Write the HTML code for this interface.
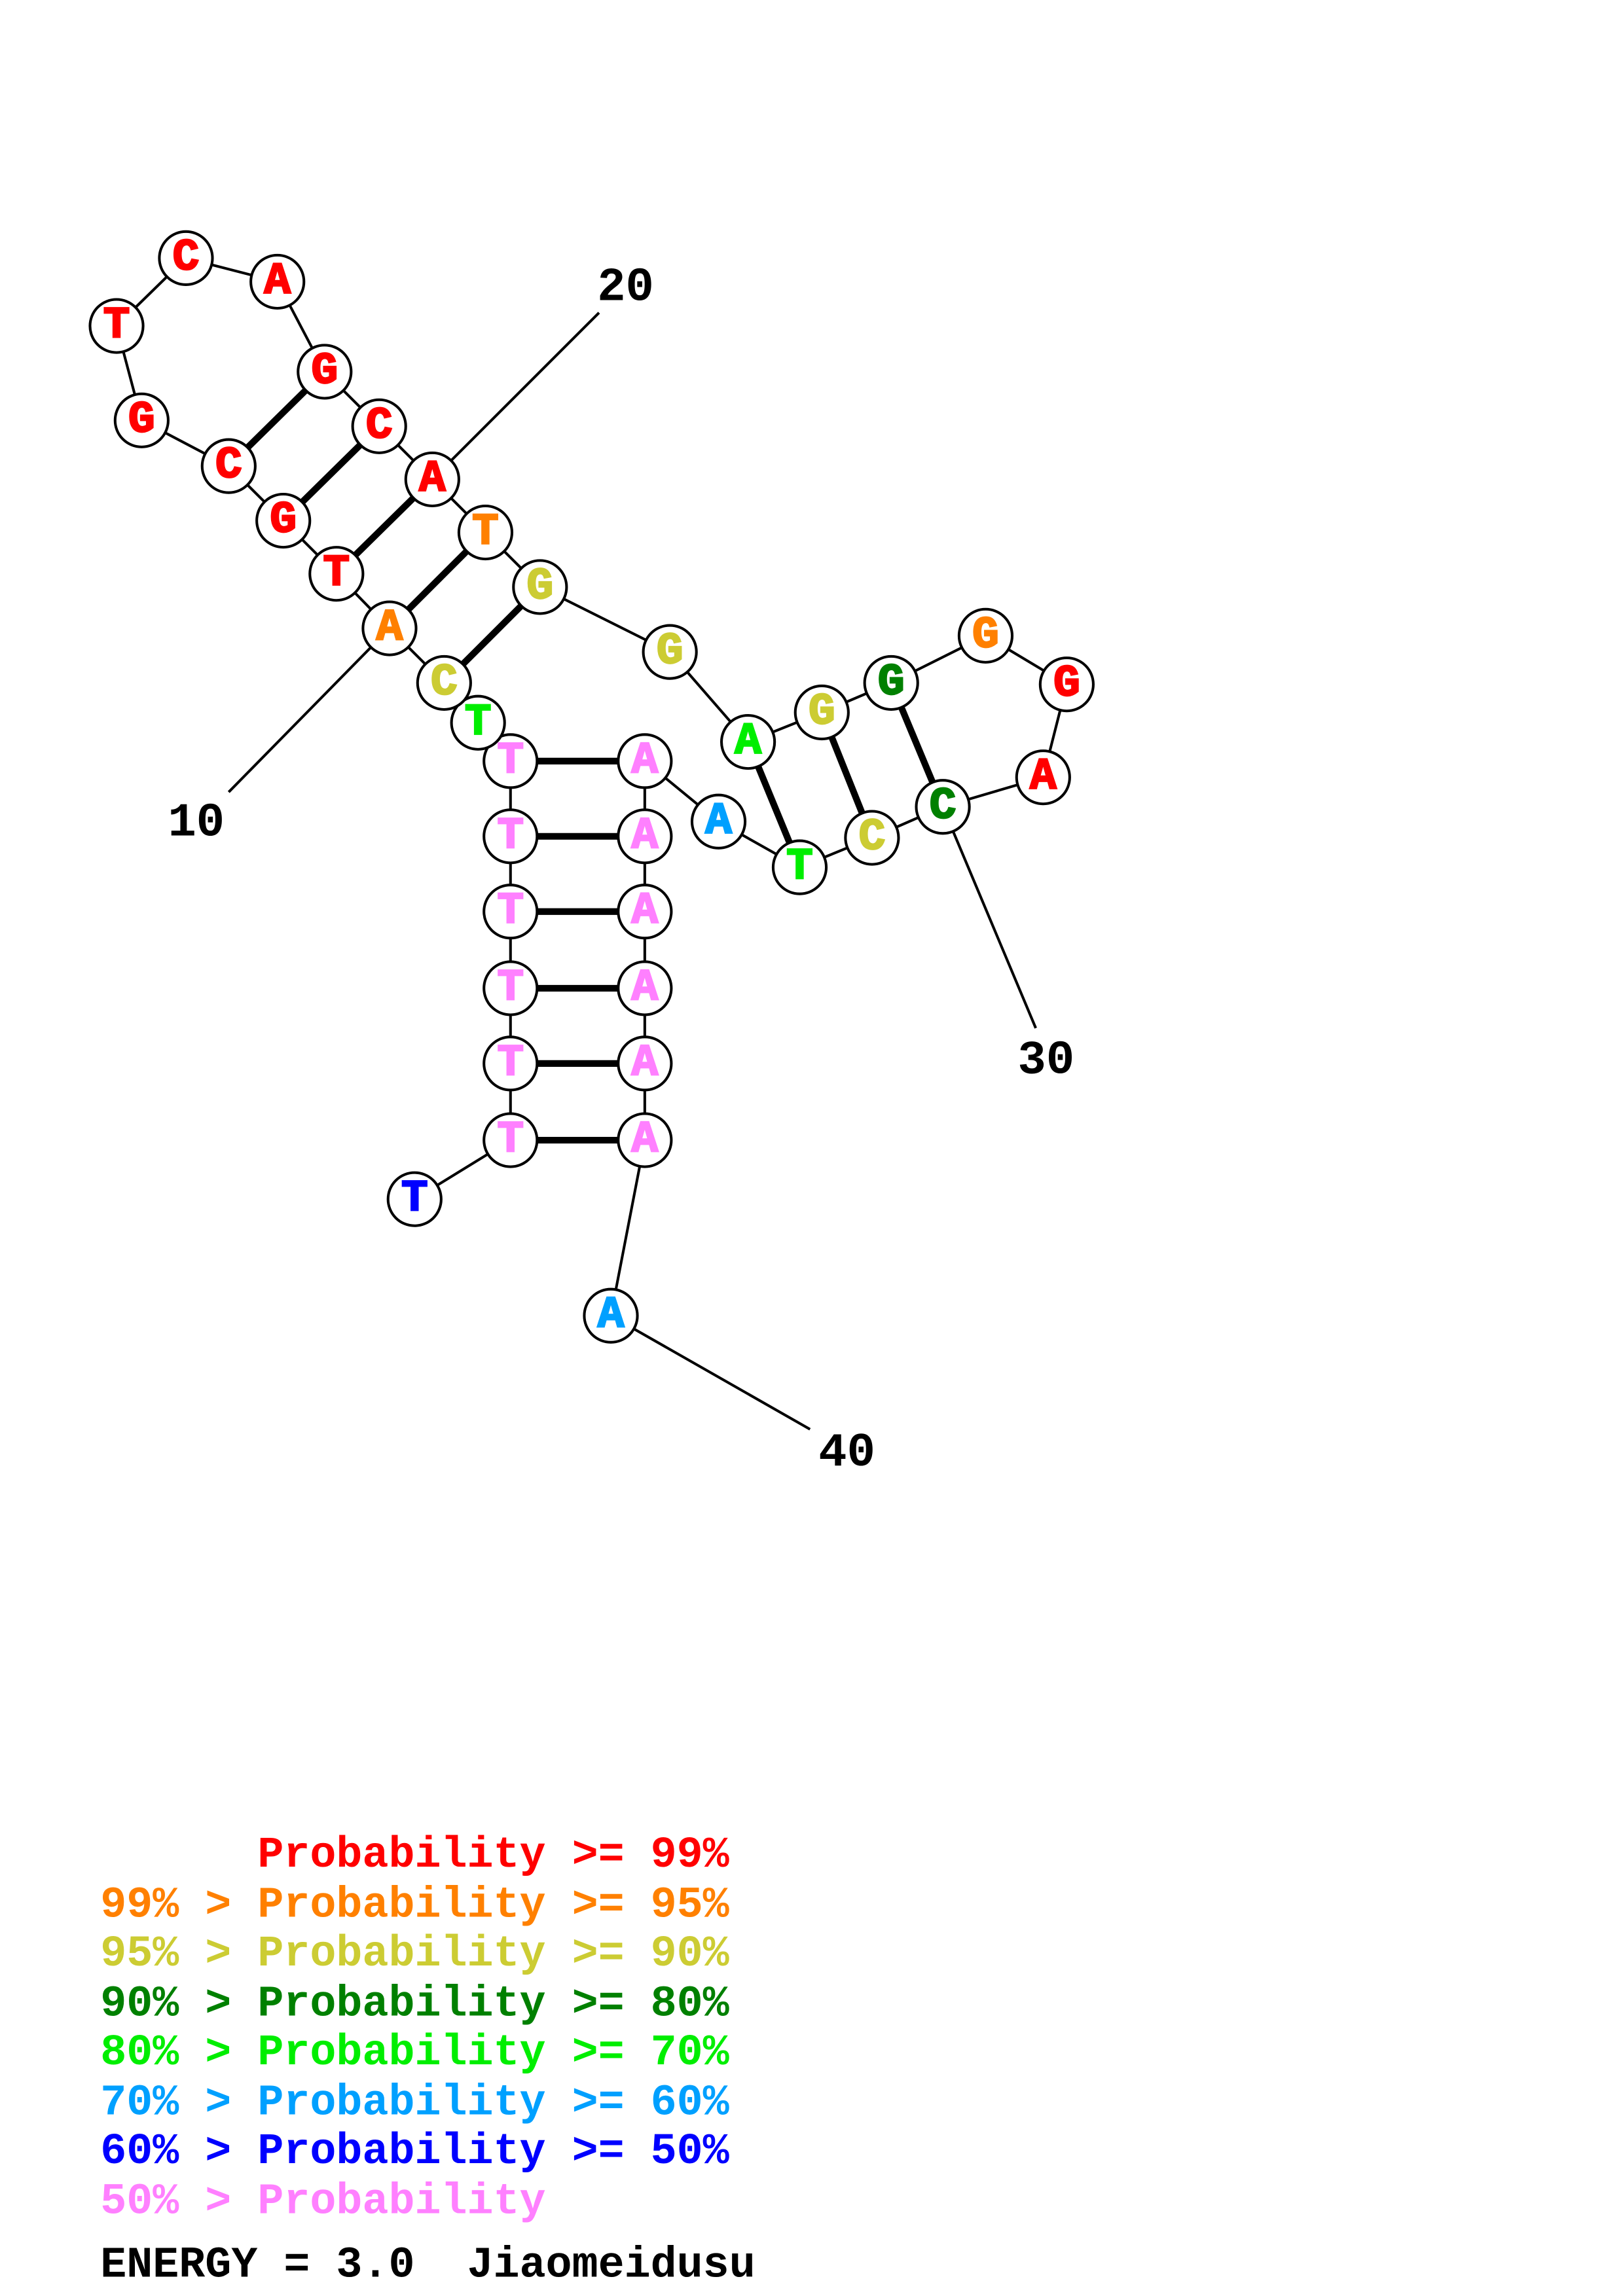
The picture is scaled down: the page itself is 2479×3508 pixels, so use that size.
<!DOCTYPE html>
<html><head><meta charset="utf-8"><style>html,body{margin:0;padding:0;background:#fff}svg{display:block}text{white-space:pre}</style></head>
<body>
<svg width="2479" height="3508" viewBox="0 0 1100 1556.6" preserveAspectRatio="none" xmlns="http://www.w3.org/2000/svg" font-family="Liberation Mono, monospace" font-weight="bold">
<g stroke="#000" stroke-width="1.8" fill="none">
<polyline points="281,813 346,773 346,721 346,670 346,618 346,567 346,516 324,490 301,463 264,426 228,389 192,353 155,316 96,285 79,221 126,175 188,191 220,252 257,289 293,325 329,361 366,398 454,442 507,503 557,483 604,463 668,431 723,464 707,527 639,547 591,568 542,588 487,557 437,516 437,567 437,618 437,670 437,721 437,773 414,892"/>
<line x1="406" y1="212" x2="293" y2="325"/>
<line x1="155" y1="537" x2="264" y2="426"/>
<line x1="702" y1="697" x2="639" y2="547"/>
<line x1="549" y1="969" x2="414" y2="892"/>
</g>
<g stroke="#000" stroke-width="4.5">
<line x1="346" y1="773" x2="437" y2="773"/><line x1="346" y1="721" x2="437" y2="721"/>
<line x1="346" y1="670" x2="437" y2="670"/><line x1="346" y1="618" x2="437" y2="618"/>
<line x1="346" y1="567" x2="437" y2="567"/><line x1="346" y1="516" x2="437" y2="516"/>
<line x1="301" y1="463" x2="366" y2="398"/><line x1="264" y1="426" x2="329" y2="361"/>
<line x1="228" y1="389" x2="293" y2="325"/><line x1="192" y1="353" x2="257" y2="289"/>
<line x1="155" y1="316" x2="220" y2="252"/>
<line x1="507" y1="503" x2="542" y2="588"/><line x1="557" y1="483" x2="591" y2="568"/>
<line x1="604" y1="463" x2="639" y2="547"/>
</g>
<g stroke="#000" stroke-width="1.8" fill="#fff">
<circle cx="281" cy="813" r="18"/><circle cx="346" cy="773" r="18"/><circle cx="346" cy="721" r="18"/><circle cx="346" cy="670" r="18"/><circle cx="346" cy="618" r="18"/><circle cx="346" cy="567" r="18"/><circle cx="346" cy="516" r="18"/><circle cx="324" cy="490" r="18"/><circle cx="301" cy="463" r="18"/><circle cx="264" cy="426" r="18"/><circle cx="228" cy="389" r="18"/><circle cx="192" cy="353" r="18"/><circle cx="155" cy="316" r="18"/><circle cx="96" cy="285" r="18"/><circle cx="79" cy="221" r="18"/><circle cx="126" cy="175" r="18"/><circle cx="188" cy="191" r="18"/><circle cx="220" cy="252" r="18"/><circle cx="257" cy="289" r="18"/><circle cx="293" cy="325" r="18"/><circle cx="329" cy="361" r="18"/><circle cx="366" cy="398" r="18"/><circle cx="454" cy="442" r="18"/><circle cx="507" cy="503" r="18"/><circle cx="557" cy="483" r="18"/><circle cx="604" cy="463" r="18"/><circle cx="668" cy="431" r="18"/><circle cx="723" cy="464" r="18"/><circle cx="707" cy="527" r="18"/><circle cx="639" cy="547" r="18"/><circle cx="591" cy="568" r="18"/><circle cx="542" cy="588" r="18"/><circle cx="487" cy="557" r="18"/><circle cx="437" cy="516" r="18"/><circle cx="437" cy="567" r="18"/><circle cx="437" cy="618" r="18"/><circle cx="437" cy="670" r="18"/><circle cx="437" cy="721" r="18"/><circle cx="437" cy="773" r="18"/><circle cx="414" cy="892" r="18"/>
</g>
<g font-size="30" text-anchor="middle" dominant-baseline="central" stroke-width="1.2">
<text x="281" y="813" fill="#0000ff" stroke="#0000ff">T</text>
<text x="346" y="773" fill="#ff80ff" stroke="#ff80ff">T</text><text x="346" y="721" fill="#ff80ff" stroke="#ff80ff">T</text><text x="346" y="670" fill="#ff80ff" stroke="#ff80ff">T</text><text x="346" y="618" fill="#ff80ff" stroke="#ff80ff">T</text><text x="346" y="567" fill="#ff80ff" stroke="#ff80ff">T</text><text x="346" y="516" fill="#ff80ff" stroke="#ff80ff">T</text>
<text x="324" y="490" fill="#00ee00" stroke="#00ee00">T</text>
<text x="301" y="463" fill="#cccc33" stroke="#cccc33">C</text>
<text x="264" y="426" fill="#ff8000" stroke="#ff8000">A</text>
<g fill="#ff0000" stroke="#ff0000"><text x="228" y="389">T</text><text x="192" y="353">G</text><text x="155" y="316">C</text><text x="96" y="285">G</text><text x="79" y="221">T</text><text x="126" y="175">C</text><text x="188" y="191">A</text><text x="220" y="252">G</text><text x="257" y="289">C</text><text x="293" y="325">A</text></g>
<text x="329" y="361" fill="#ff8000" stroke="#ff8000">T</text>
<text x="366" y="398" fill="#cccc33" stroke="#cccc33">G</text><text x="454" y="442" fill="#cccc33" stroke="#cccc33">G</text>
<text x="507" y="503" fill="#00ee00" stroke="#00ee00">A</text>
<text x="557" y="483" fill="#cccc33" stroke="#cccc33">G</text>
<text x="604" y="463" fill="#008000" stroke="#008000">G</text>
<text x="668" y="431" fill="#ff8000" stroke="#ff8000">G</text>
<text x="723" y="464" fill="#ff0000" stroke="#ff0000">G</text><text x="707" y="527" fill="#ff0000" stroke="#ff0000">A</text>
<text x="639" y="547" fill="#008000" stroke="#008000">C</text>
<text x="591" y="568" fill="#cccc33" stroke="#cccc33">C</text>
<text x="542" y="588" fill="#00ee00" stroke="#00ee00">T</text>
<text x="487" y="557" fill="#00a0ff" stroke="#00a0ff">A</text>
<g fill="#ff80ff" stroke="#ff80ff"><text x="437" y="516">A</text><text x="437" y="567">A</text><text x="437" y="618">A</text><text x="437" y="670">A</text><text x="437" y="721">A</text><text x="437" y="773">A</text></g>
<text x="414" y="892" fill="#00a0ff" stroke="#00a0ff">A</text>
</g>
<g font-size="32" fill="#000" text-anchor="middle" dominant-baseline="central">
<text x="424" y="195">20</text><text x="133" y="558">10</text><text x="709" y="719">30</text><text x="574" y="985">40</text>
</g>
<g font-size="29.6" dominant-baseline="central">
<text x="68" y="1258" fill="#ff0000">      Probability &gt;= 99%</text>
<text x="68" y="1292" fill="#ff8000">99% &gt; Probability &gt;= 95%</text>
<text x="68" y="1325" fill="#cccc33">95% &gt; Probability &gt;= 90%</text>
<text x="68" y="1359" fill="#008000">90% &gt; Probability &gt;= 80%</text>
<text x="68" y="1392" fill="#00ee00">80% &gt; Probability &gt;= 70%</text>
<text x="68" y="1426" fill="#00a0ff">70% &gt; Probability &gt;= 60%</text>
<text x="68" y="1459" fill="#0000ff">60% &gt; Probability &gt;= 50%</text>
<text x="68" y="1493" fill="#ff80ff">50% &gt; Probability</text>
<text x="68" y="1536" fill="#000">ENERGY = 3.0  Jiaomeidusu</text>
</g>
</svg>
</body></html>
